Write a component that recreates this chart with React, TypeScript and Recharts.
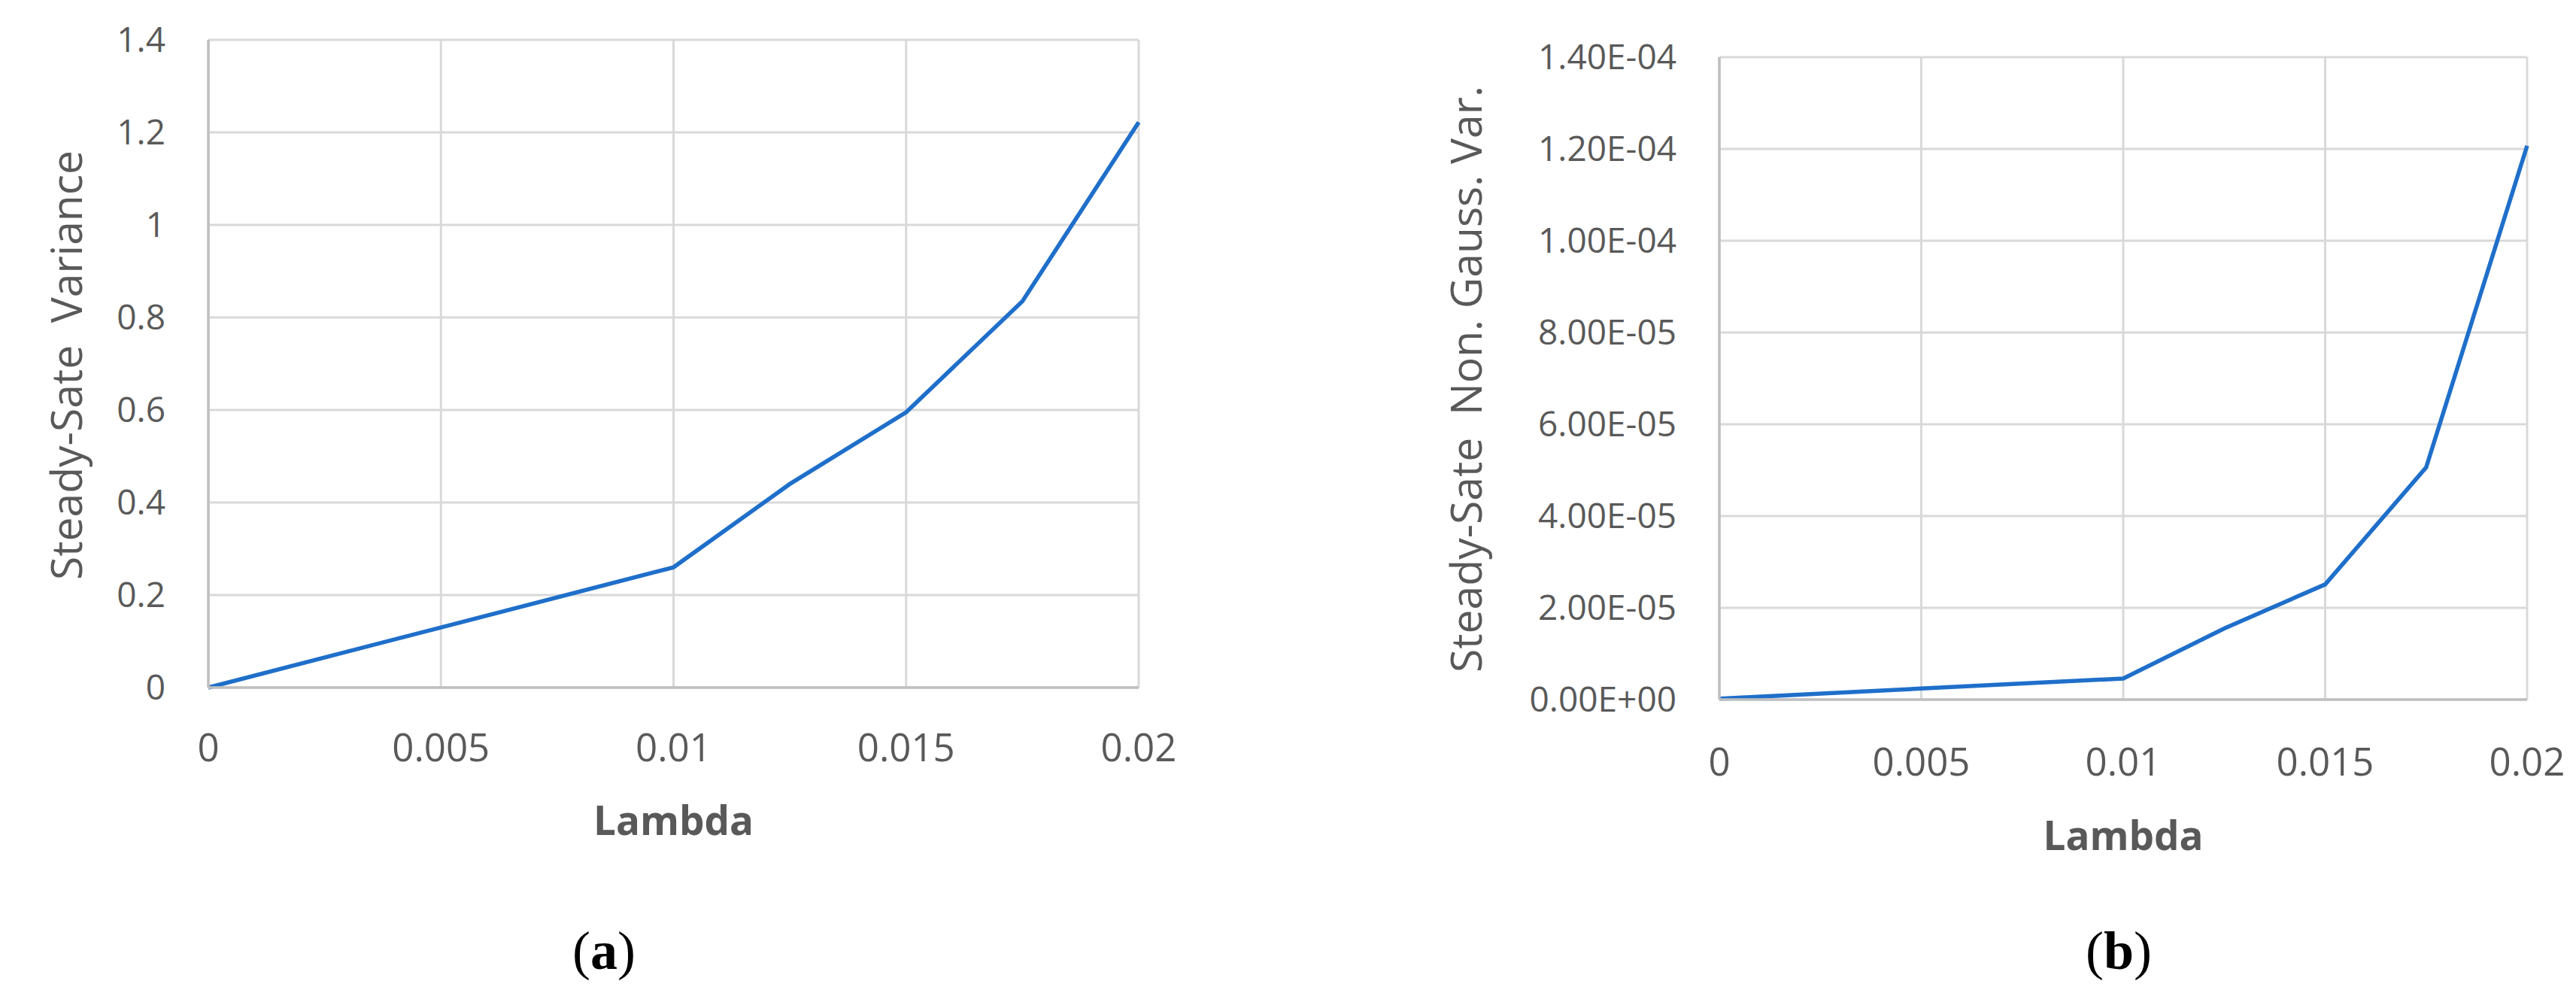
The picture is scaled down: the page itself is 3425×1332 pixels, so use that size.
import { LineChart, Line, XAxis, YAxis, CartesianGrid, Label } from 'recharts';

// panel (a): steady-state variance vs lambda
const lambdaA = [0, 0.005, 0.01, 0.0125, 0.015, 0.0175, 0.02];
const varianceA = [0, 0.13, 0.26, 0.44, 0.595, 0.835, 1.222];

// panel (b): steady-state non-gaussian variance vs lambda
const lambdaB = [0, 0.005, 0.01, 0.0125, 0.015, 0.0175, 0.02];
const nonGaussB = [0.0000002, 0.0000024, 0.0000046, 0.0000155, 0.0000251, 0.0000506, 0.0001207];

const xTicks = [0, 0.005, 0.01, 0.015, 0.02];
const yTicksA = [0, 0.2, 0.4, 0.6, 0.8, 1, 1.2, 1.4];
const yTicksB = [0, 0.00002, 0.00004, 0.00006, 0.00008, 0.0001, 0.00012, 0.00014];

const dataA = lambdaA.map((l, i) => ({ lambda: l, value: varianceA[i] }));
const dataB = lambdaB.map((l, i) => ({ lambda: l, value: nonGaussB[i] }));

const TEXT = '#595959';
const GRID = '#d9d9d9';
const AXIS = '#bfbfbf';
const LINE = '#1f6fca';
const FONT = '"Open Sans", "Noto Sans", sans-serif';

const fmtA = (v: number) => String(Math.round(v * 10) / 10);
const fmtB = (v: number) => {
  const [m, e] = v.toExponential(2).split('e');
  const sign = e[0] === '-' ? '-' : '+';
  const digits = e.replace(/^[+-]/, '').padStart(2, '0');
  return `${m}E${sign}${digits}`;
};

interface PanelProps {
  data: { lambda: number; value: number }[];
  left: number;
  width: number;
  plotRight: number; // right edge of plot area, relative to panel
  top: number;
  bottom: number;
  yAxisWidth: number;
  yTicks: number[];
  yMax: number;
  yFormat: (v: number) => string;
  yTitle: string;
  titleX: number;
  titleDy: number;
  xTickMargin: number;
  lambdaDy: number;
}

function Panel(p: PanelProps) {
  const height = 1332;
  return (
    <div style={{ position: 'absolute', left: p.left, top: 0 }}>
      <LineChart
        width={p.width}
        height={height}
        data={p.data}
        margin={{ top: p.top, right: p.width - p.plotRight, left: 0, bottom: 0 }}
      >
        <CartesianGrid stroke={GRID} strokeWidth={3} />
        <XAxis
          type="number"
          dataKey="lambda"
          domain={[0, 0.02]}
          ticks={xTicks}
          interval={0}
          height={height - p.bottom}
          tickLine={false}
          tickSize={0}
          tickMargin={p.xTickMargin}
          axisLine={{ stroke: AXIS, strokeWidth: 3.5 }}
          tick={{ fill: TEXT, fontSize: 51, fontFamily: FONT }}
          tickFormatter={(v: number) => String(v)}
        >
          <Label
            content={(lp: any) => {
              const vb = lp.viewBox || { x: 0, y: 0, width: 0 };
              return (
                <text
                  x={vb.x + vb.width / 2}
                  y={vb.y + p.lambdaDy}
                  textAnchor="middle"
                  fill={TEXT}
                  fontSize={53}
                  fontWeight="bold"
                  fontFamily={FONT}
                >
                  Lambda
                </text>
              );
            }}
          />
        </XAxis>
        <YAxis
          type="number"
          domain={[0, p.yMax]}
          ticks={p.yTicks}
          interval={0}
          width={p.yAxisWidth}
          tickLine={false}
          tickSize={0}
          tickMargin={57}
          axisLine={{ stroke: AXIS, strokeWidth: 3.5 }}
          tick={{ fill: TEXT, fontSize: 46, fontFamily: FONT }}
          tickFormatter={p.yFormat}
        >
          <Label
            content={(lp: any) => {
              const vb = lp.viewBox || { y: 0, height: 0 };
              const cy = vb.y + vb.height / 2 + p.titleDy;
              return (
                <text
                  x={p.titleX}
                  y={cy}
                  transform={`rotate(-90 ${p.titleX} ${cy})`}
                  textAnchor="middle"
                  dominantBaseline="central"
                  fill={TEXT}
                  fontSize={57}
                  fontFamily={FONT}
                >
                  {p.yTitle}
                </text>
              );
            }}
          />
        </YAxis>
        <Line
          type="linear"
          dataKey="value"
          stroke={LINE}
          strokeWidth={5.5}
          dot={false}
          activeDot={false}
          isAnimationActive={false}
        />
      </LineChart>
    </div>
  );
}

function Caption({ x, letter }: { x: number; letter: string }) {
  return (
    <div
      style={{
        position: 'absolute',
        left: x,
        top: 1228,
        transform: 'translateX(-50%)',
        fontFamily: '"Liberation Serif", "Times New Roman", serif',
        fontSize: 72,
        lineHeight: '72px',
        color: '#000',
        whiteSpace: 'nowrap',
      }}
    >
      (<b>{letter}</b>)
    </div>
  );
}

export default function App() {
  return (
    <div style={{ position: 'absolute', left: 0, top: 0, width: 3425, height: 1332, background: '#fff', overflow: 'hidden' }}>
      <Panel
        data={dataA}
        left={0}
        width={1620}
        plotRight={1514}
        top={53}
        bottom={914}
        yAxisWidth={277}
        yTicks={yTicksA}
        yMax={1.4}
        yFormat={fmtA}
        yTitle={'Steady-Sate\u00A0 Variance'}
        titleX={87}
        titleDy={2}
        xTickMargin={62}
        lambdaDy={196}
      />
      <Panel
        data={dataB}
        left={1800}
        width={1625}
        plotRight={1560}
        top={76}
        bottom={930}
        yAxisWidth={486}
        yTicks={yTicksB}
        yMax={0.00014}
        yFormat={fmtB}
        yTitle={'Steady-Sate\u00A0 Non. Gauss. Var.'}
        titleX={148}
        titleDy={1}
        xTickMargin={65}
        lambdaDy={200}
      />
      <Caption x={803} letter="a" />
      <Caption x={2817} letter="b" />
    </div>
  );
}
